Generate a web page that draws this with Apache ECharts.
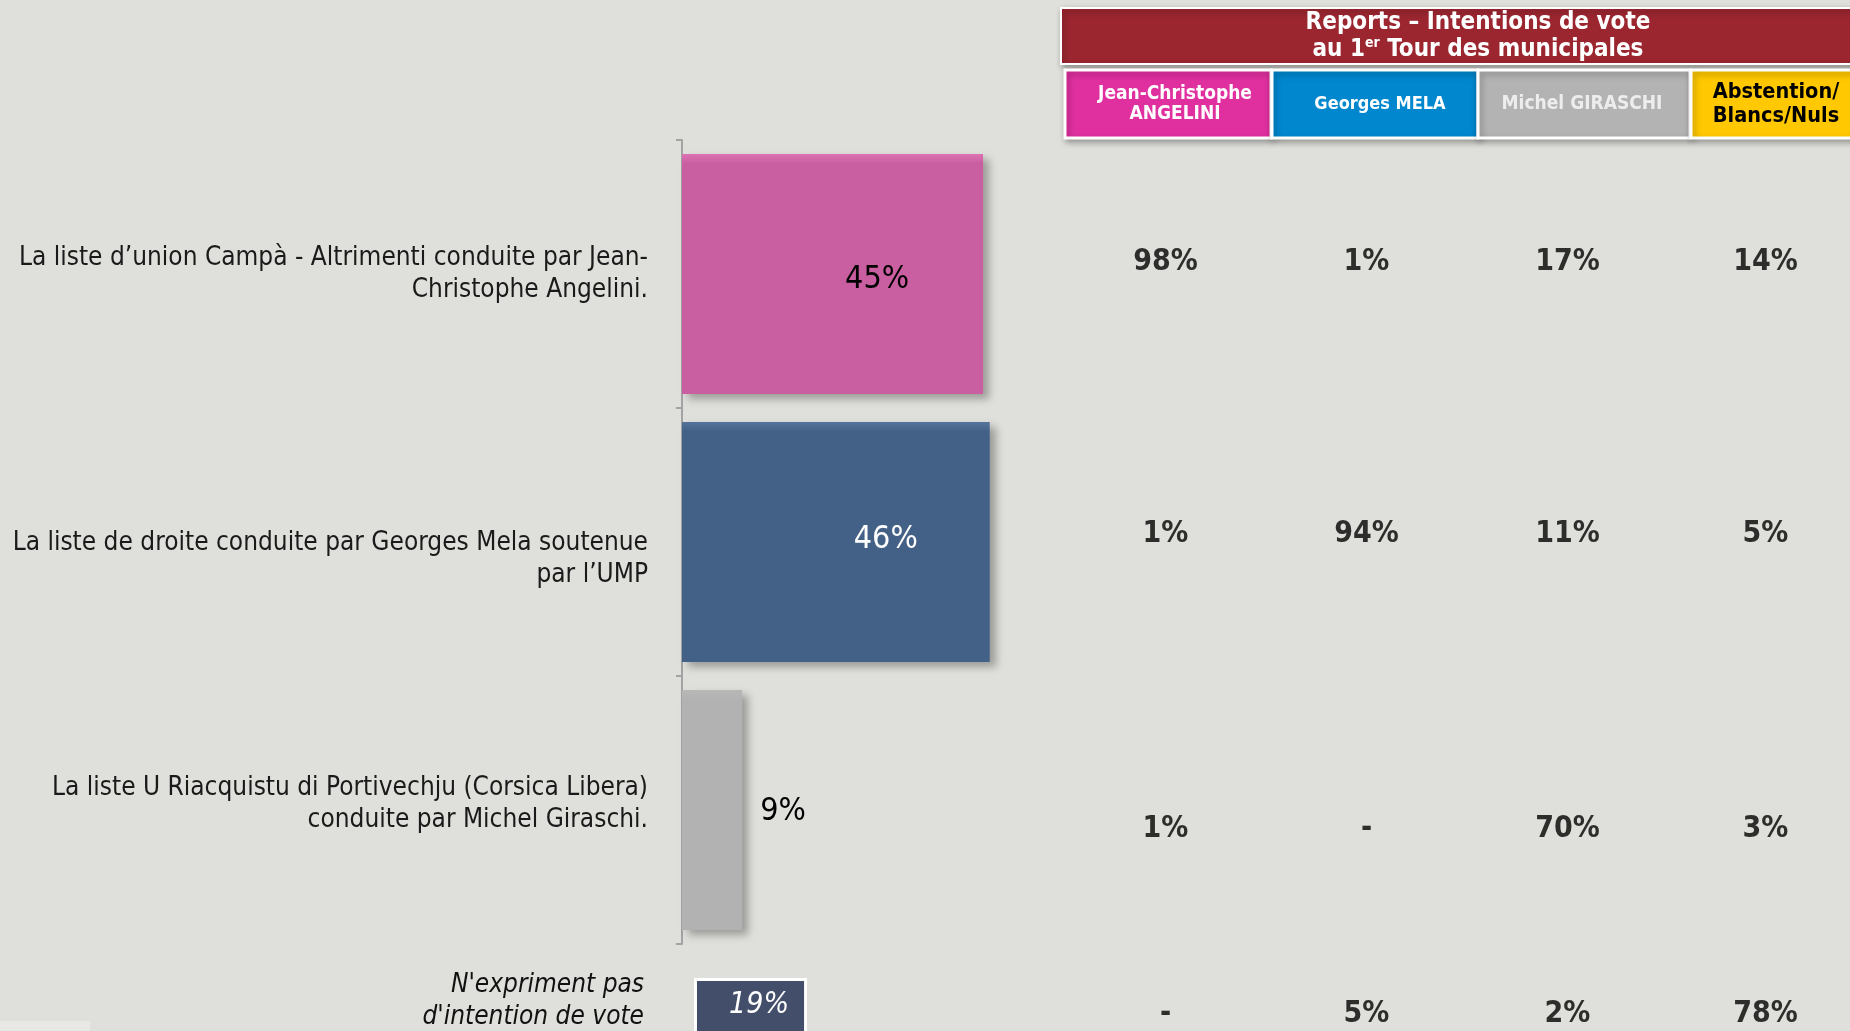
<!doctype html>
<html>
<head>
    <meta charset="utf-8">
    <title>Reports - Intentions de vote</title>
    <style type="text/css">
        body, html {
            width: 100%;
            height: 100%;
            margin: 0;
            padding: 0;
            background: #dfe0db;
        }
    </style>
</head>
<body>
<div id="container" style="width: 1850px; height: 1031px"></div>

<script type="text/javascript" src="https://cdn.jsdelivr.net/npm/echarts@6/dist/echarts.min.js"></script>
<script type="text/javascript">
    // listes (axe des barres)
    const listes = [
        'La liste d\u2019union Camp\u00e0 - Altrimenti conduite par Jean-\nChristophe Angelini.',
        'La liste de droite conduite par Georges Mela soutenue\npar l\u2019UMP',
        'La liste U Riacquistu di Portivechju (Corsica Libera)\nconduite par Michel Giraschi.'
    ];
    const scores = [45, 46, 9];
    const barColors = ['#c95fa0', '#436186', '#b2b2b2'];
    const barTops = ['#dc72b2', '#56749b', '#b8b8b8'];

    const nonExprimeLabel = 'N\'expriment pas\nd\'intention de vote';
    const nonExprime = 19;

    // tableau des reports
    const colonnes = ['Jean-Christophe\nANGELINI', 'Georges MELA', 'Michel GIRASCHI', 'Abstention/\nBlancs/Nuls'];
    const lignes = ['Angelini', 'Mela', 'Giraschi', 'Non exprimes'];
    const reportAngelini = ['98%', '1%', '1%', '-'];
    const reportMela = ['1%', '94%', '-', '5%'];
    const reportGiraschi = ['17%', '11%', '70%', '2%'];
    const reportAbstention = ['14%', '5%', '3%', '78%'];

    const font = '"DejaVu Sans Condensed", "DejaVu Sans", sans-serif';

    const dom = document.getElementById('container');
    const myChart = echarts.init(dom, null, {renderer: 'canvas'});

    const labelText = ['#000', '#fff', '#000'];
    const labelPos = ['insideRight', 'insideRight', 'right'];
    const labelDist = [74, 72, 18];
    const labelShift = [6, -2, 2];

    // décalage vertical des libellés (lignes vides avant / après)
    const gapBefore = [0, 34, 0];
    const gapAfter = [0, 0, 12];

    const tableCols = [reportAngelini, reportMela, reportGiraschi, reportAbstention];
    const rowShift = [-12, -8, 19, -64];
    const colShift = [0, 0, 0, -3];
    const tableData = [];
    tableCols.forEach(function (col, c) {
        col.forEach(function (v, r) {
            tableData.push({
                value: [c, r],
                label: {formatter: v, offset: [colShift[c], rowShift[r]]}
            });
        });
    });

    const headerColors = ['#e030a0', '#0087ce', '#b3b3b3', '#ffc800'];
    const headerText = ['#fff', '#fff', '#ededed', '#000'];
    const headerX = [1065, 1272, 1478, 1691];
    const headerW = [206, 206, 212, 170];
    const graphics = [
        {
            type: 'rect',
            shape: {x: 1061, y: 8, width: 800, height: 56},
            style: {fill: '#9b2630', stroke: '#fff', lineWidth: 2,
                shadowBlur: 6, shadowOffsetX: 2, shadowOffsetY: 3, shadowColor: 'rgba(0,0,0,0.35)'}
        },
        {
            type: 'text',
            x: 1478, y: 36,
            style: {
                text: 'Reports \u2013 Intentions de vote\nau 1{sup|er} Tour des municipales',
                fill: '#fff', font: 'bold 24px ' + font, align: 'center', verticalAlign: 'middle',
                lineHeight: 27,
                rich: {sup: {fontSize: 14, fontWeight: 'bold', fontFamily: font, fill: '#fff', verticalAlign: 'top', lineHeight: 27, padding: [0, 0, 9, 0]}}
            }
        },
        {
            type: 'rect',
            shape: {x: 0, y: 1021, width: 90, height: 12},
            style: {fill: '#e8e9e5'}
        }
    ];
    colonnes.forEach(function (name, i) {
        graphics.push({
            type: 'rect',
            shape: {x: headerX[i], y: 70, width: headerW[i], height: 68},
            style: {fill: headerColors[i], stroke: '#fff', lineWidth: 3,
                shadowBlur: 6, shadowOffsetX: 2, shadowOffsetY: 3, shadowColor: 'rgba(0,0,0,0.3)'}
        });
        graphics.push({
            type: 'text',
            x: [1175, 1380, 1582, 1776][i], y: 104,
            style: {
                text: name, fill: headerText[i],
                font: 'bold ' + [19, 18, 19, 21.5][i] + 'px ' + font,
                align: 'center', verticalAlign: 'middle', lineHeight: i === 3 ? 24 : 20
            }
        });
    });

    const option = {
        backgroundColor: '#dfe0db',
        animation: false,
        graphic: graphics,
        grid: [
            {left: 682, top: 140, width: 669, height: 804, outerBoundsMode: 'none'},
            {left: 694, top: 978, width: 595, height: 60, outerBoundsMode: 'none'},
            {left: 1065, top: 140, width: 804, height: 1072, outerBoundsMode: 'none'}
        ],
        xAxis: [
            {gridIndex: 0, type: 'value', min: 0, max: 100, show: false},
            {gridIndex: 1, type: 'value', min: 0, max: 100, show: false},
            {gridIndex: 2, type: 'category', data: colonnes, show: false}
        ],
        yAxis: [
            {
                gridIndex: 0, type: 'category', inverse: true,
                data: listes,
                axisLine: {show: true, lineStyle: {color: '#a3a3a3', width: 2}},
                axisTick: {show: true, length: 6, lineStyle: {color: '#a3a3a3', width: 2}},
                axisLabel: {
                    margin: 34, color: '#1a1a1a', fontSize: 26, lineHeight: 32,
                    fontFamily: font, align: 'right',
                    formatter: function (value, i) {
                        let s = value;
                        if (gapBefore[i]) s = '{gb' + i + '| }\n' + s;
                        if (gapAfter[i]) s = s + '\n{ga' + i + '| }';
                        return s;
                    },
                    rich: {
                        gb1: {lineHeight: gapBefore[1], fontSize: 1},
                        ga2: {lineHeight: gapAfter[2], fontSize: 1}
                    }
                }
            },
            {
                gridIndex: 1, type: 'category', inverse: true,
                data: [nonExprimeLabel],
                axisLine: {show: false}, axisTick: {show: false},
                axisLabel: {
                    margin: 50, color: '#111', fontSize: 26, lineHeight: 32,
                    fontStyle: 'italic', fontFamily: font, align: 'right',
                    formatter: function (value) {
                        return value + '\n{ga| }';
                    },
                    rich: {ga: {lineHeight: 14, fontSize: 1}}
                }
            },
            {gridIndex: 2, type: 'category', inverse: true, data: lignes, show: false}
        ],
        series: [
            {
                type: 'bar',
                xAxisIndex: 0, yAxisIndex: 0,
                barCategoryGap: '10.5%',
                data: scores.map(function (v, i) {
                    return {
                        value: v,
                        itemStyle: {
                            color: new echarts.graphic.LinearGradient(0, 0, 0, 1, [
                                {offset: 0, color: barTops[i]},
                                {offset: 0.04, color: barColors[i]},
                                {offset: 1, color: barColors[i]}
                            ])
                        },
                        label: {color: labelText[i], position: labelPos[i], distance: labelDist[i], offset: [0, labelShift[i]]}
                    };
                }),
                itemStyle: {
                    shadowBlur: 8, shadowOffsetX: 6, shadowOffsetY: 5, shadowColor: 'rgba(0,0,0,0.3)'
                },
                label: {
                    show: true, fontSize: 32, fontFamily: font,
                    formatter: '{c}%'
                }
            },
            {
                type: 'bar',
                xAxisIndex: 1, yAxisIndex: 1,
                barCategoryGap: 0,
                data: [nonExprime],
                itemStyle: {color: '#434e6a', borderColor: '#fff', borderWidth: 3},
                label: {
                    show: true, position: 'insideRight', distance: 18, offset: [0, -3],
                    color: '#fff', fontSize: 30, fontStyle: 'italic', fontFamily: font,
                    formatter: '{c}%'
                }
            },
            {
                type: 'scatter',
                xAxisIndex: 2, yAxisIndex: 2,
                symbolSize: 0,
                data: tableData,
                label: {
                    show: true, position: 'inside', color: '#000',
                    fontSize: 30, fontWeight: 'bold', fontFamily: font
                }
            }
        ]
    };

    myChart.setOption(option);
    window.addEventListener('resize', myChart.resize);
</script>
</body>
</html>
